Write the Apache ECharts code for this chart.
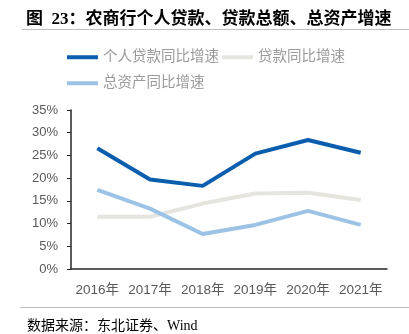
<!DOCTYPE html>
<html><head><meta charset="utf-8">
<script src="https://cdn.jsdelivr.net/npm/echarts@6/dist/echarts.min.js"></script>
<style>html,body{margin:0;padding:0;background:#fff}#c{width:409px;height:334px}</style>
</head><body><div id="c"></div>
<script>
const categories = ['2016年','2017年','2018年','2019年','2020年','2021年'];
const personalLoanGrowth = [26.6, 19.7, 18.3, 25.4, 28.4, 25.6];
const loanGrowth = [11.5, 11.5, 14.4, 16.6, 16.8, 15.2];
const assetGrowth = [17.4, 13.3, 7.7, 9.7, 12.8, 9.7];
const yTicks = [0, 5, 10, 15, 20, 25, 30, 35];
const seriesNames = ['个人贷款同比增速','贷款同比增速','总资产同比增速'];
const colors = ['#0B5DAE','#E6E4DF','#9CC2E5'];

const chart = echarts.init(document.getElementById('c'), null, {renderer:'canvas'});
const sans = '"Liberation Sans","Noto Sans CJK SC",sans-serif';
const serif = '"Liberation Serif","Noto Sans CJK SC",serif';
const legendCommon = {
  orient:'horizontal', itemWidth:31, itemHeight:4, itemGap:3, icon:'rect',
  textStyle:{color:'#9A9A9A', fontSize:14.5, fontFamily:sans, padding:0}
};
chart.setOption({
  animation:false,
  title:[
    {text:'图\u200223：农商行个人贷款、贷款总额、总资产增速', left:21, top:6,
     textStyle:{fontSize:17, fontWeight:'bold', color:'#000', fontFamily:serif}},
    {text:'数据来源：东北证券、Wind', left:22, top:314,
     textStyle:{fontSize:14, fontWeight:'normal', color:'#000', fontFamily:serif}}
  ],
  graphic:[
    {type:'line', shape:{x1:22,y1:29.5,x2:409,y2:29.5}, style:{stroke:'#BFBFBF', lineWidth:1}},
    {type:'line', shape:{x1:20,y1:307.5,x2:409,y2:307.5}, style:{stroke:'#BFBFBF', lineWidth:1}}
  ],
  legend:[
    Object.assign({data:[seriesNames[0], seriesNames[1]], left:62, top:45}, legendCommon),
    Object.assign({data:[seriesNames[2]], left:62, top:71}, legendCommon)
  ],
  grid:{left:71, right:22, top:110, bottom:65, containLabel:false},
  xAxis:{type:'category', data:categories, boundaryGap:true,
    axisLine:{lineStyle:{color:'#262626', width:1.5}},
    axisTick:{show:false},
    axisLabel:{color:'#595959', fontSize:13.5, fontFamily:sans, margin:15, interval:0}},
  yAxis:{type:'value', min:yTicks[0], max:yTicks[yTicks.length-1], interval:5,
    axisLine:{show:true, lineStyle:{color:'#262626', width:1.5}},
    axisTick:{show:true, length:4, lineStyle:{color:'#262626'}},
    splitLine:{show:false},
    axisLabel:{color:'#595959', fontSize:13, fontFamily:sans, margin:13, formatter:v=>v+'%'}},
  series:[
    {name:seriesNames[0], type:'line', data:personalLoanGrowth, symbol:'none', lineStyle:{color:colors[0], width:4}, itemStyle:{color:colors[0]}, z:3},
    {name:seriesNames[1], type:'line', data:loanGrowth, symbol:'none', lineStyle:{color:colors[1], width:4}, itemStyle:{color:colors[1]}, z:1},
    {name:seriesNames[2], type:'line', data:assetGrowth, symbol:'none', lineStyle:{color:colors[2], width:4}, itemStyle:{color:colors[2]}, z:2}
  ]
});
</script></body></html>
